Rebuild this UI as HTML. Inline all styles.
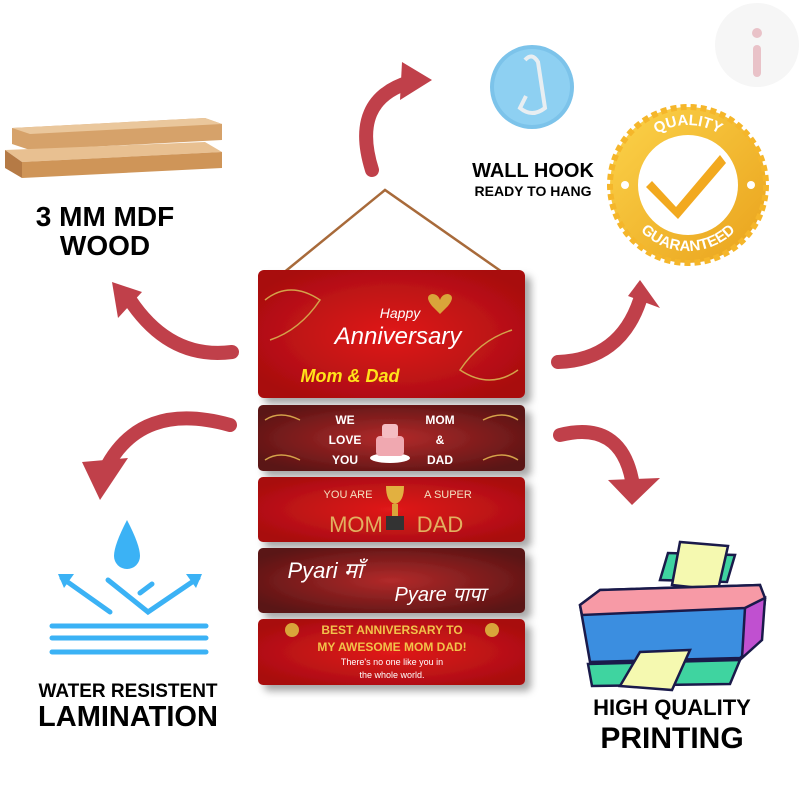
<!DOCTYPE html>
<html><head><meta charset="utf-8"><style>
html,body{margin:0;padding:0;background:#fff}
svg{display:block}
text{font-family:"Liberation Sans","Noto Sans CJK SC",sans-serif}
</style></head><body>
<svg width="800" height="800" viewBox="0 0 800 800" xmlns="http://www.w3.org/2000/svg">
<defs>
<radialGradient id="red" cx="50%" cy="50%" r="60%"><stop offset="0" stop-color="#e01a1a"/><stop offset="1" stop-color="#a80d10"/></radialGradient>
<radialGradient id="mar" cx="50%" cy="50%" r="60%"><stop offset="0" stop-color="#b22a2a"/><stop offset="1" stop-color="#5a1414"/></radialGradient>
<linearGradient id="gold" x1="0" y1="0" x2="1" y2="1"><stop offset="0" stop-color="#fcd34a"/><stop offset="1" stop-color="#e9a21c"/></linearGradient>
<filter id="sh"><feDropShadow dx="6" dy="6" stdDeviation="4" flood-color="#000" flood-opacity="0.35"/></filter>
</defs>

<circle cx="757" cy="45" r="42" fill="#f6f6f6"/>
<rect x="753" y="45" width="8" height="32" rx="4" fill="#e9c2c8"/>
<circle cx="757" cy="33" r="5" fill="#e9c2c8"/>

<!-- wood planks -->
<polygon points="12,128 205,118 222,124 222,140 30,150 12,144" fill="#d6a26a"/>
<polygon points="12,128 205,118 222,124 30,134" fill="#eac79c"/>
<polygon points="5,150 205,142 222,152 22,162" fill="#e8c091"/>
<polygon points="5,150 22,162 22,178 5,168" fill="#b57a45"/>
<polygon points="22,162 222,152 222,168 22,178" fill="#cf9558"/>
<text x="105" y="226" font-size="28" font-weight="bold" text-anchor="middle">3 MM MDF</text>
<text x="105" y="255" font-size="28" font-weight="bold" text-anchor="middle">WOOD</text>

<!-- hook -->
<circle cx="532" cy="87" r="42" fill="#7cc3ea"/>
<circle cx="532" cy="87" r="38" fill="#8ed0f2"/>
<path d="M525 60 Q532 52 538 62 L545 108 Q532 118 520 108 L526 96" stroke="#e8eef2" stroke-width="4" fill="none"/>
<text x="533" y="177" font-size="20" font-weight="bold" text-anchor="middle">WALL HOOK</text>
<text x="533" y="196" font-size="14" font-weight="bold" text-anchor="middle">READY TO HANG</text>

<!-- badge -->
<g transform="translate(688,185)">
<circle r="78" fill="url(#gold)" stroke="#f5b62a" stroke-width="6" stroke-dasharray="6 4"/>
<circle r="50" fill="#fff"/>
<path d="M-36 -4 L-12 22 L32 -30 L38 -22 L-10 34 L-42 2 Z" fill="#f2a91f"/>
<circle cx="-63" cy="0" r="4" fill="#fff"/><circle cx="63" cy="0" r="4" fill="#fff"/>
<path id="tp" d="M-60 0 A60 60 0 0 1 60 0" fill="none"/>
<text font-size="15" font-weight="bold" fill="#fff" text-anchor="middle"><textPath href="#tp" startOffset="50%">QUALITY</textPath></text>
<path id="bp" d="M-66 0 A66 66 0 0 0 66 0" fill="none"/>
<text font-size="15" font-weight="bold" fill="#fff" text-anchor="middle"><textPath href="#bp" startOffset="50%">GUARANTEED</textPath></text>
</g>

<!-- arrows -->
<g fill="none" stroke="#c0404a" stroke-width="14" stroke-linecap="round">
<path d="M372 170 Q350 100 410 82"/>
<path d="M232 352 Q170 360 130 300"/>
<path d="M558 362 Q620 360 640 300"/>
<path d="M230 425 Q140 400 105 470"/>
<path d="M560 435 Q620 420 632 480"/>
</g>
<g fill="#c0404a">
<polygon points="402,62 432,80 400,100"/>
<polygon points="112,282 142,292 118,318"/>
<polygon points="628,296 640,280 660,308"/>
<polygon points="82,462 128,458 100,500"/>
<polygon points="608,480 660,478 632,505"/>
</g>

<path d="M282 274 L385 190 L505 274" stroke="#a86a3a" stroke-width="2.5" fill="none"/>

<g filter="url(#sh)">
<rect x="258" y="270" width="267" height="128" rx="6" fill="url(#red)"/>
<rect x="258" y="405" width="267" height="66" rx="5" fill="url(#mar)"/>
<rect x="258" y="477" width="267" height="65" rx="5" fill="url(#red)"/>
<rect x="258" y="548" width="267" height="65" rx="5" fill="url(#mar)"/>
<rect x="258" y="619" width="267" height="66" rx="5" fill="url(#red)"/>
</g>
<g stroke="#d4a24a" stroke-width="1.5" fill="none">
<path d="M265 300 Q290 280 320 300 Q300 330 270 340"/>
<path d="M518 370 Q490 390 460 370 Q480 340 512 330"/>
<path d="M265 420 Q280 410 300 420"/><path d="M518 420 Q503 410 483 420"/>
<path d="M265 460 Q280 450 300 460"/><path d="M518 460 Q503 450 483 460"/>
</g>
<text x="400" y="318" font-size="14" fill="#fff" text-anchor="middle" font-family="Liberation Serif" font-style="italic">Happy</text>
<text x="398" y="344" font-size="24" fill="#fff" text-anchor="middle" font-family="Liberation Serif" font-style="italic">Anniversary</text>
<path d="M432 306 q-8 -10 0 -12 q6 0 8 6 q2 -6 8 -6 q8 2 0 12 l-8 8 z" fill="#d9a53a"/>
<text x="350" y="382" font-size="18" fill="#ffe21a" text-anchor="middle" font-family="Liberation Serif" font-style="italic" font-weight="bold">Mom &amp; Dad</text>

<g font-size="12" font-weight="bold" fill="#fff" text-anchor="middle">
<text x="345" y="424">WE</text><text x="345" y="444">LOVE</text><text x="345" y="464">YOU</text>
<text x="440" y="424">MOM</text><text x="440" y="444">&amp;</text><text x="440" y="464">DAD</text>
</g>
<ellipse cx="390" cy="458" rx="20" ry="5" fill="#fff"/>
<rect x="376" y="436" width="28" height="20" rx="4" fill="#f0a8b0"/>
<rect x="382" y="424" width="16" height="14" rx="3" fill="#f4bcc2"/>

<text x="348" y="498" font-size="11" fill="#f4e0c0" text-anchor="middle" font-family="Liberation Serif">YOU ARE</text>
<text x="448" y="498" font-size="11" fill="#f4e0c0" text-anchor="middle" font-family="Liberation Serif">A SUPER</text>
<text x="356" y="532" font-size="22" fill="#e2b060" text-anchor="middle" font-family="Liberation Serif">MOM</text>
<text x="440" y="532" font-size="22" fill="#e2b060" text-anchor="middle" font-family="Liberation Serif">DAD</text>
<path d="M386 486 h18 q0 16 -9 18 q-9 -2 -9 -18z" fill="#e2b040"/>
<rect x="386" y="516" width="18" height="14" fill="#333"/>
<rect x="392" y="504" width="6" height="12" fill="#d9a53a"/>

<text x="325" y="578" font-size="22" fill="#fff" text-anchor="middle" font-family="Liberation Serif" font-style="italic">Pyari माँ</text>
<text x="440" y="601" font-size="20" fill="#fff" text-anchor="middle" font-family="Liberation Serif" font-style="italic">Pyare पापा</text>

<g font-size="12" font-weight="bold" fill="#f2c24a" text-anchor="middle">
<text x="392" y="634">BEST ANNIVERSARY TO</text>
<text x="392" y="651">MY AWESOME MOM DAD!</text>
</g>
<g font-size="9" fill="#fff" text-anchor="middle">
<text x="392" y="665">There's no one like you in</text>
<text x="392" y="678">the whole world.</text>
</g>
<circle cx="292" cy="630" r="7" fill="#d9a53a"/><circle cx="492" cy="630" r="7" fill="#d9a53a"/>

<!-- water -->
<path d="M127 520 Q140 545 140 556 A13 13 0 0 1 114 556 Q114 545 127 520Z" fill="#3bb2f5"/>
<g stroke="#3bb2f5" stroke-width="5" stroke-linecap="round" fill="none">
<path d="M110 612 L62 578"/><path d="M108 580 L148 612 L198 578"/><path d="M140 593 L152 584"/>
<line x1="52" y1="626" x2="206" y2="626"/><line x1="52" y1="638" x2="206" y2="638"/><line x1="52" y1="652" x2="206" y2="652"/>
</g>
<polygon points="58,574 74,574 64,588" fill="#3bb2f5"/>
<polygon points="202,574 186,574 196,588" fill="#3bb2f5"/>
<text x="128" y="697" font-size="19" font-weight="bold" text-anchor="middle">WATER RESISTENT</text>
<text x="128" y="726" font-size="29" font-weight="bold" text-anchor="middle">LAMINATION</text>

<!-- printer -->
<g stroke="#1a1a4a" stroke-width="2.5">
<path d="M660 580 L668 553 L735 555 L727 582Z" fill="#3fd4a0"/>
<path d="M672 585 L680 542 L728 546 L718 590Z" fill="#f5f9b0"/>
<path d="M580 605 L600 590 L760 585 L765 600 L760 640 L740 658 L590 662Z" fill="#3b8ee0"/>
<path d="M580 605 L600 590 L760 585 L765 598 L745 608 L582 615Z" fill="#f79aa6"/>
<path d="M745 608 L765 598 L762 640 L742 658Z" fill="#c050d0"/>
<path d="M588 664 L740 660 L730 684 L592 686Z" fill="#3fd4a0"/>
<path d="M620 686 L640 652 L690 650 L672 690Z" fill="#f5f9b0"/>
</g>
<text x="672" y="715" font-size="22" font-weight="bold" text-anchor="middle">HIGH QUALITY</text>
<text x="672" y="748" font-size="30" font-weight="bold" text-anchor="middle">PRINTING</text>
</svg>
</body></html>
